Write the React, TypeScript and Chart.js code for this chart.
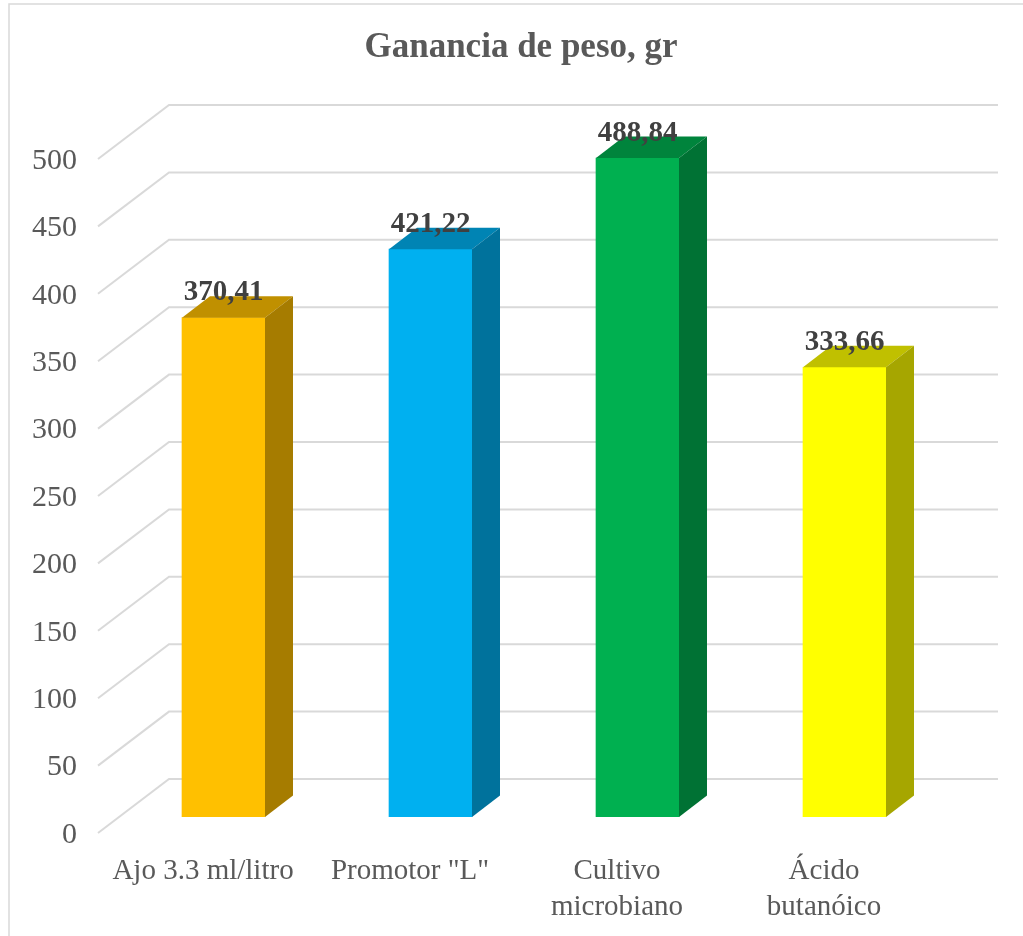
import React, { useEffect, useRef } from "react";
import { Chart, registerables } from "chart.js";

Chart.register(...registerables);

const categories = [["Ajo 3.3 ml/litro"], ['Promotor "L"'], ["Cultivo", "microbiano"], ["Ácido", "butanóico"]];
const values = [370.41, 421.22, 488.84, 333.66];
const frontColors = ["#FFC000", "#00B0F0", "#00B050", "#FFFF00"];
const topColors = ["#C09000", "#0084B4", "#00843C", "#C0C000"];
const sideColors = ["#A67C00", "#00729C", "#007234", "#A6A600"];
const tickStep = 50;
const chartTitle = "Ganancia de peso, gr";

const SERIF = '"Liberation Serif", "Times New Roman", serif';
const GRID = "#D9D9D9";
const BAR_DX = 28;
const BAR_DY = 21.5;
const FLOOR_FRONT = 16;
const FLOOR_BACK = -38;
const TICK_LABEL_DROP = 18;
const WALL_LEFT = 169;
const WALL_RIGHT = 998;
const FRONT_LEFT = 98;

const scene3d = {
  id: "scene3d",
  beforeDraw(chart: any) {
    const { ctx } = chart;
    ctx.save();
    ctx.fillStyle = "#FFFFFF";
    ctx.fillRect(0, 0, chart.width, chart.height);
    ctx.strokeStyle = GRID;
    ctx.lineWidth = 1.5;
    ctx.strokeRect(9, 4, chart.width + 20, chart.height + 20);
    ctx.restore();
  },
  beforeDatasetsDraw(chart: any) {
    const { ctx } = chart;
    const y = chart.scales.y;
    ctx.save();
    ctx.strokeStyle = GRID;
    ctx.lineWidth = 2;
    y.ticks.forEach((t: any) => {
      const p = y.getPixelForValue(t.value);
      ctx.beginPath();
      ctx.moveTo(FRONT_LEFT, p + FLOOR_FRONT);
      ctx.lineTo(WALL_LEFT, p + FLOOR_BACK);
      ctx.lineTo(WALL_RIGHT, p + FLOOR_BACK);
      ctx.stroke();
    });
    ctx.restore();
  },
  afterDatasetsDraw(chart: any) {
    const { ctx } = chart;
    const meta = chart.getDatasetMeta(0);
    ctx.save();
    meta.data.forEach((bar: any, i: number) => {
      const half = bar.width / 2;
      const l = bar.x - half;
      const r = bar.x + half;
      const t = bar.y;
      const b = bar.base;
      ctx.fillStyle = topColors[i];
      ctx.beginPath();
      ctx.moveTo(l, t);
      ctx.lineTo(l + BAR_DX, t - BAR_DY);
      ctx.lineTo(r + BAR_DX, t - BAR_DY);
      ctx.lineTo(r, t);
      ctx.closePath();
      ctx.fill();
      ctx.fillStyle = sideColors[i];
      ctx.beginPath();
      ctx.moveTo(r, t);
      ctx.lineTo(r + BAR_DX, t - BAR_DY);
      ctx.lineTo(r + BAR_DX, b - BAR_DY);
      ctx.lineTo(r, b);
      ctx.closePath();
      ctx.fill();
    });
    ctx.font = `bold 29px ${SERIF}`;
    ctx.fillStyle = "#404040";
    ctx.textAlign = "center";
    ctx.textBaseline = "middle";
    meta.data.forEach((bar: any, i: number) => {
      ctx.fillText(values[i].toFixed(2).replace(".", ","), bar.x, bar.y - 25);
    });
    ctx.restore();
  },
};

export default function App() {
  const ref = useRef<HTMLCanvasElement>(null);
  useEffect(() => {
    const chart = new Chart(ref.current as HTMLCanvasElement, {
      type: "bar",
      data: {
        labels: categories as any,
        datasets: [
          {
            data: values,
            backgroundColor: frontColors,
            borderWidth: 0,
            barThickness: 83,
          },
        ],
      },
      options: {
        responsive: false,
        animation: false,
        layout: { padding: { left: 19, right: 0, top: 0, bottom: 0 } },
        plugins: {
          legend: { display: false },
          tooltip: { enabled: false },
          title: {
            display: true,
            text: chartTitle,
            color: "#595959",
            font: { family: SERIF, size: 35, weight: "bold", lineHeight: 1.2 },
            padding: { top: 27, bottom: 74 },
          },
        },
        scales: {
          x: {
            grid: { display: false, drawTicks: false },
            border: { display: false },
            afterFit(s: any) {
              s.height = 119;
            },
            ticks: {
              color: "#595959",
              font: { family: SERIF, size: 29, lineHeight: 1.24 },
              padding: 36,
              labelOffset: -20.5,
              maxRotation: 0,
              minRotation: 0,
              autoSkip: false,
            },
          },
          y: {
            min: 0,
            max: 500,
            grid: { display: false, drawTicks: false },
            border: { display: false },
            afterFit(s: any) {
              s.width = 101;
            },
            ticks: {
              stepSize: tickStep,
              color: "#595959",
              font: { family: SERIF, size: 30 },
              padding: 43,
              labelOffset: TICK_LABEL_DROP,
            },
          },
          rightGutter: {
            position: "right",
            grid: { display: false, drawTicks: false },
            border: { display: false },
            ticks: { display: false },
            afterFit(s: any) {
              s.width = 75;
            },
          },
        },
      },
      plugins: [scene3d],
    } as any);
    return () => chart.destroy();
  }, []);
  return (
    <div style={{ position: "absolute", left: 0, top: 0 }}>
      <canvas ref={ref} width={1023} height={936} style={{ display: "block" }} />
    </div>
  );
}
